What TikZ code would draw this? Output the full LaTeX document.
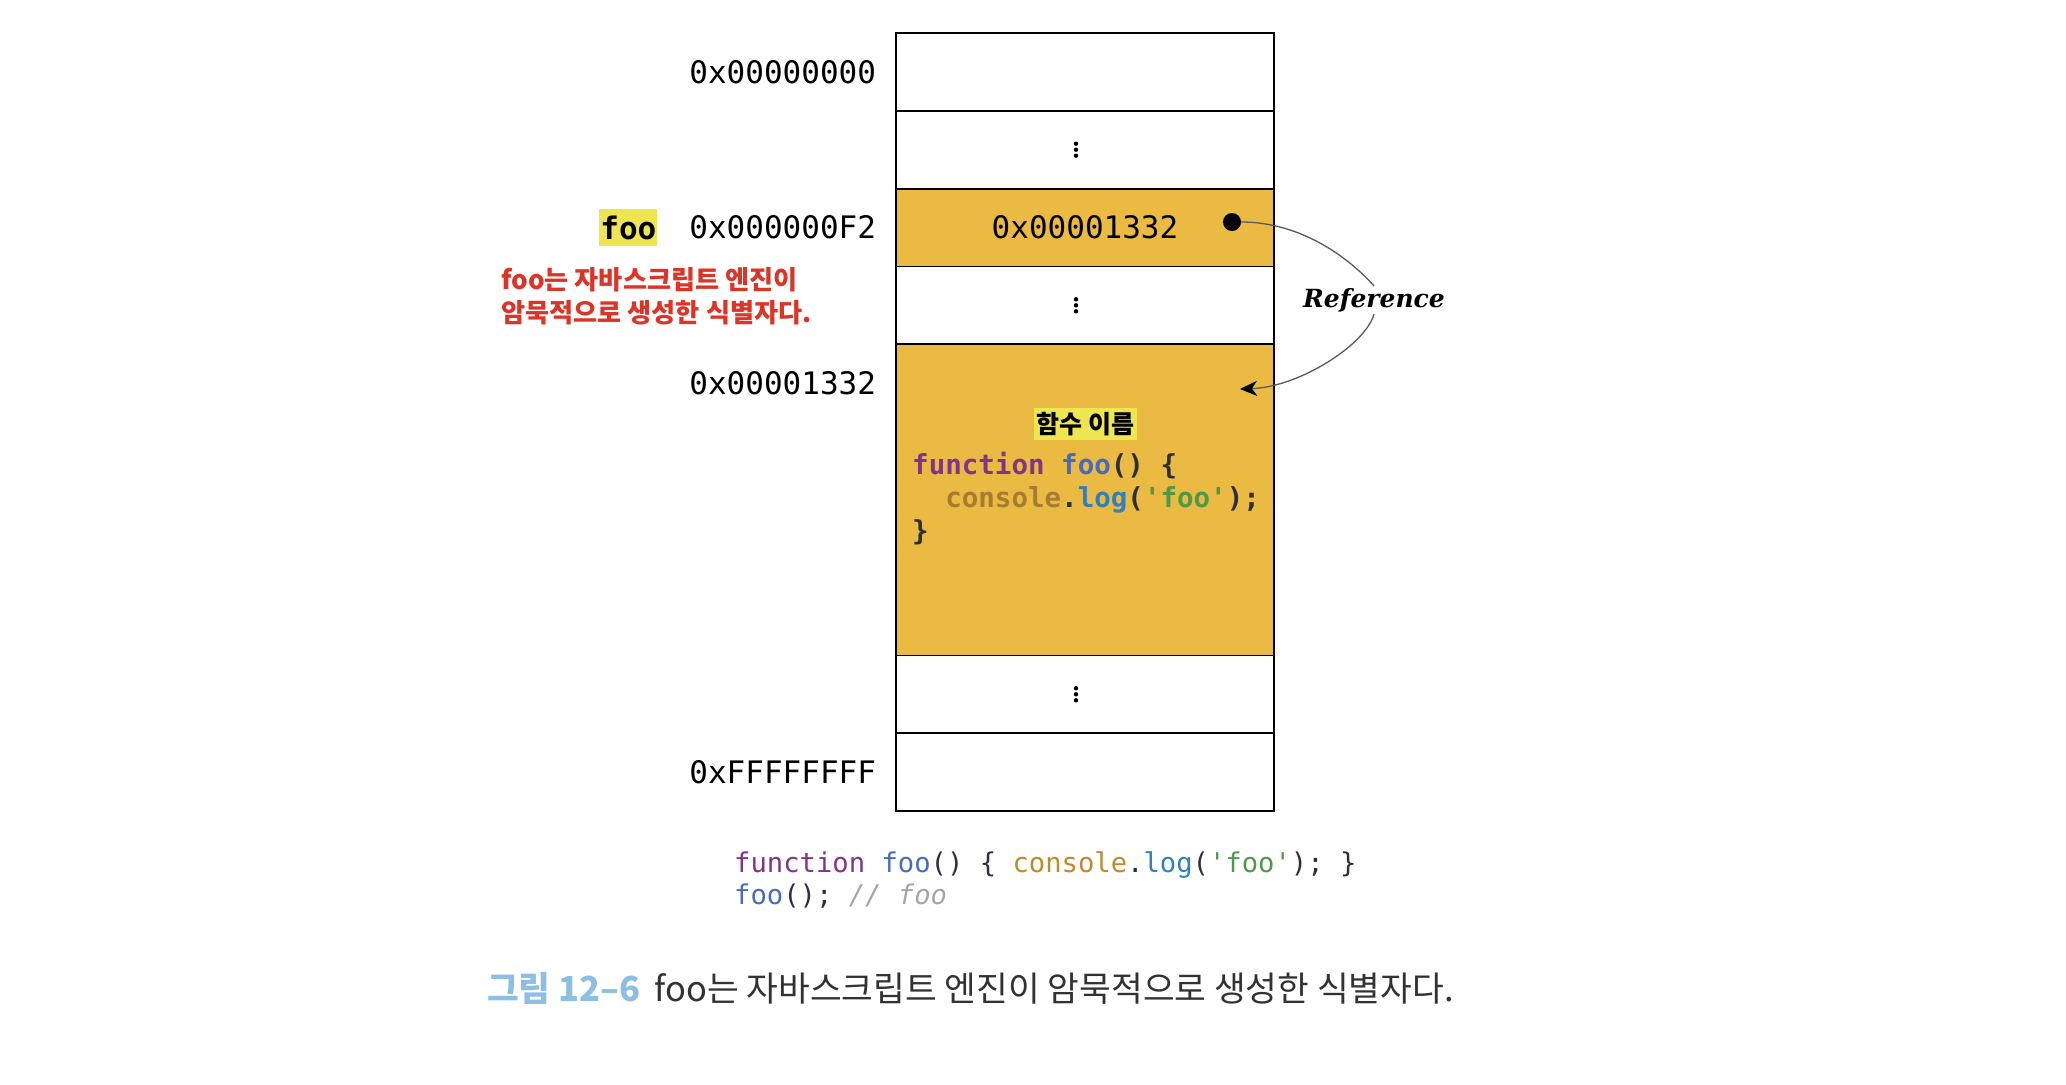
\documentclass[tikz,border=0pt]{standalone}
\usepackage{fontspec}
\usepackage{xcolor}
\usetikzlibrary{arrows.meta,positioning,calc}
\setmonofont{DejaVu Sans Mono}
\newfontfamily\kofont{Noto Sans CJK KR}
\newfontfamily\reffont{DejaVu Serif}
\definecolor{memfill}{RGB}{234,186,66}
\definecolor{hilite}{RGB}{237,230,80}
\definecolor{noteRed}{RGB}{221,52,40}
\definecolor{capBlue}{RGB}{141,191,227}
\definecolor{capText}{RGB}{50,50,50}
\definecolor{kwPurple}{RGB}{130,52,140}
\definecolor{fnBlue}{RGB}{72,108,188}
\definecolor{objGold}{RGB}{190,138,46}
\definecolor{objDark}{RGB}{165,125,50}
\definecolor{propBlue}{RGB}{48,128,192}
\definecolor{strGreen}{RGB}{78,152,72}
\definecolor{punct}{RGB}{45,48,58}
\definecolor{cmtGray}{RGB}{165,165,165}
\definecolor{refLine}{RGB}{90,90,90}

\begin{document}
\begin{tikzpicture}[x=1pt, y=1pt,
    cell/.style={draw=black, line width=1.8pt, minimum width=378pt, minimum height=77.8pt,
      inner sep=0pt, outer sep=0pt, font=\ttfamily\fontsize{31}{31}\selectfont},
    addr/.style={inner sep=0pt, outer sep=0pt, font=\ttfamily\fontsize{31}{31}\selectfont},
    refline/.style={draw=refLine, line width=1.3pt}]

  \useasboundingbox (0,0) rectangle (2066,-1084);

  % Memory cells
  \node[cell, anchor=north] (m0) at (1085,-33) {};
  \node[cell, below=0pt of m0] (m1) {};
  \node[cell, fill=memfill, below=0pt of m1] (m2) {0x00001332};
  \node[cell, below=0pt of m2] (m3) {};
  \node[cell, fill=memfill, minimum height=311.2pt, below=0pt of m3] (m4) {};
  \node[cell, below=0pt of m4] (m5) {};
  \node[cell, below=0pt of m5] (m6) {};

  % Vertical ellipses
  \foreach \c in {m1,m3,m5}
    \foreach \dy in {-6,0,6}
      \fill ($(\c.center)+(-9,\dy)$) circle (2.2);

  % Addresses
  \node[addr, left=20pt of m0] (a0) {0x00000000};
  \node[addr, left=20pt of m2] (a2) {0x000000F2};
  \node[addr, anchor=east] (a4) at ($(m4.north west)+(-20,-38.9)$) {0x00001332};
  \node[addr, left=20pt of m6] (a6) {0xFFFFFFFF};

  % Identifier and note
  \node[addr, fill=hilite, inner xsep=1pt, minimum height=37pt,
    font=\ttfamily\bfseries\fontsize{31}{31}\selectfont, left=32pt of a2] (ident) {foo};
  \node[font=\kofont\bfseries\fontsize{26.2}{33.5}\selectfont, text=noteRed, align=left,
    anchor=north west, inner sep=0pt] (note) at (501,-267)
    {foo는 자바스크립트 엔진이\\암묵적으로 생성한 식별자다.};

  % Function object
  \node[fill=hilite, inner xsep=3pt, inner ysep=4pt,
    font=\kofont\bfseries\fontsize{25}{25}\selectfont] (fname) at (1085.5,-424) {함수 이름};
  \node[anchor=north west, inner sep=0pt, align=left,
    font=\ttfamily\bfseries\fontsize{27.5}{33}\selectfont] (body) at (912,-452)
    {\textcolor{kwPurple}{function} \textcolor{fnBlue}{foo}\textcolor{punct}{() \{}\\
     \phantom{xx}\textcolor{objDark}{console}\textcolor{punct}{.}\textcolor{propBlue}{log}\textcolor{punct}{(}\textcolor{strGreen}{'foo'}\textcolor{punct}{);}\\
     \textcolor{punct}{\}}};

  % Reference
  \node[circle, fill=black, inner sep=0pt, minimum size=18pt] (ptr) at (1232,-222) {};
  \coordinate (tip) at (1240,-389);
  \node[font=\reffont\bfseries\itshape\fontsize{25}{25}\selectfont, inner sep=2pt] (ref) at (1374,-300) {Reference};
  \draw[refline] (ptr.east) .. controls +(60,0) and +(-25,28) .. (ref.north);
  \draw[refline, -{Stealth[length=17pt,width=15pt,inset=5pt,black]}]
    (ref.south) .. controls +(-8,-30) and +(60,2) .. (tip);

  % Source code
  \node[anchor=north west, inner sep=0pt, align=left,
    font=\ttfamily\fontsize{27.2}{32}\selectfont] (src) at (734,-851)
    {\textcolor{kwPurple}{function} \textcolor{fnBlue}{foo}\textcolor{punct}{() \{} \textcolor{objGold}{console}\textcolor{punct}{.}\textcolor{propBlue}{log}\textcolor{punct}{(}\textcolor{strGreen}{'foo'}\textcolor{punct}{); \}}\\
     \textcolor{fnBlue}{foo}\textcolor{punct}{();} \textcolor{cmtGray}{\itshape // foo}};

  % Caption
  \node[anchor=west, inner sep=0pt, font=\kofont\fontsize{34.5}{34.5}\selectfont, text=capText] (cap) at (487,-988)
    {{\color{capBlue}\bfseries 그림 12–6}\hspace{14pt}foo는 자바스크립트 엔진이 암묵적으로 생성한 식별자다.};

\end{tikzpicture}
\end{document}
